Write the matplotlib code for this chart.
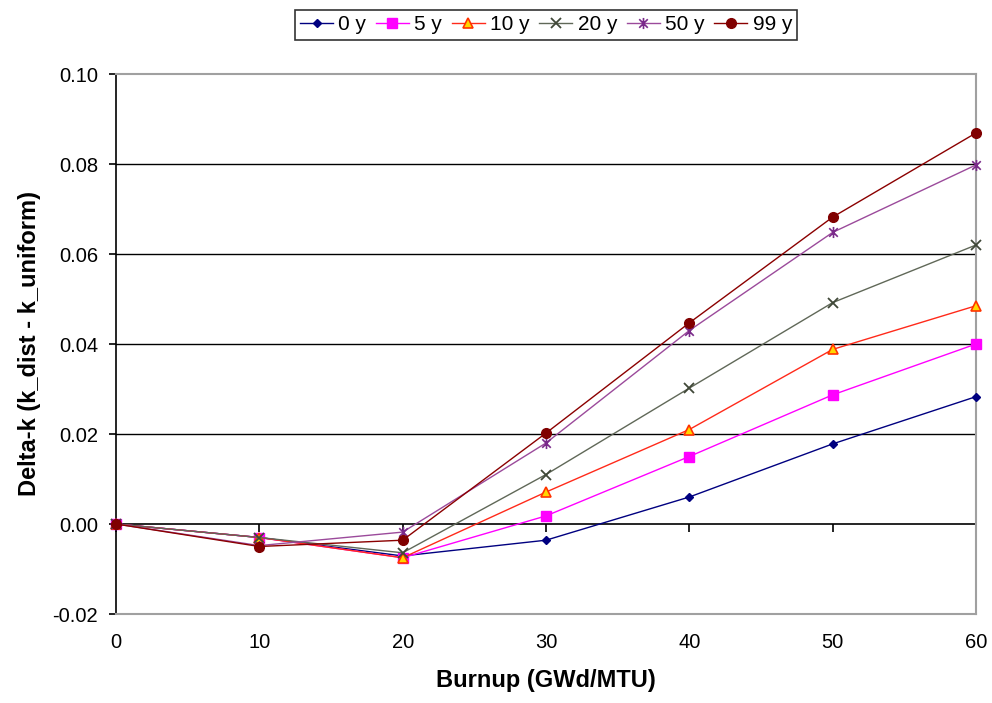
import matplotlib
matplotlib.use("Agg")
import matplotlib.pyplot as plt
from matplotlib.ticker import FormatStrFormatter
from matplotlib.path import Path

plt.rcParams['font.family'] = ['Liberation Sans', 'DejaVu Sans']

burnup = [0, 10, 20, 30, 40, 50, 60]
series_labels = ['0 y', '5 y', '10 y', '20 y', '50 y', '99 y']
dk_0y = [0.0, -0.0030, -0.0071, -0.0036, 0.0060, 0.0178, 0.0283]
dk_5y = [0.0, -0.0030, -0.0075, 0.0018, 0.0150, 0.0287, 0.0400]
dk_10y = [0.0, -0.0030, -0.0075, 0.0071, 0.0210, 0.0388, 0.0485]
dk_20y = [0.0, -0.0030, -0.0064, 0.0110, 0.0302, 0.0492, 0.0620]
dk_50y = [0.0, -0.0048, -0.0018, 0.0180, 0.0430, 0.0648, 0.0798]
dk_99y = [0.0, -0.0050, -0.0036, 0.0202, 0.0447, 0.0682, 0.0869]
yticks = [-0.02, 0.00, 0.02, 0.04, 0.06, 0.08, 0.10]
xticks = [0, 10, 20, 30, 40, 50, 60]

star = Path([(-1, -1), (1, 1), (-1, 1), (1, -1), (0, -1.3), (0, 1.3)],
            [Path.MOVETO, Path.LINETO, Path.MOVETO, Path.LINETO, Path.MOVETO, Path.LINETO])

fig = plt.figure(figsize=(9.92, 7.03), dpi=100)
ax = fig.add_axes([116/992, 1-614/703, (976-116)/992, (614-74)/703])

styles = [
    dict(color='#000080', marker='D', ms=4, mfc='#000080', mec='#000080'),
    dict(color='#FF00FF', marker='s', ms=7, mfc='#FF00FF', mec='#FF00FF'),
    dict(color='#FF2A1A', marker='^', ms=7, mfc='#FFD700', mec='#FF3300', mew=1.2),
    dict(color='#606858', marker='x', ms=7, mec='#404838', mew=1.3),
    dict(color='#9B4A9B', marker=star, ms=8, mec='#7A2A8A', mew=1.2),
    dict(color='#8B0000', marker='o', ms=7, mfc='#800000', mec='#800000'),
]
data = [dk_0y, dk_5y, dk_10y, dk_20y, dk_50y, dk_99y]
for vals, lab, st in zip(data, series_labels, styles):
    ax.plot(burnup, vals, lw=1.0, label=lab, clip_on=False, zorder=3, **st)

ax.set_xlim(0, 60)
ax.set_ylim(-0.02, 0.10)
ax.set_yticks(yticks)
ax.set_xticks(xticks)
ax.yaxis.set_major_formatter(FormatStrFormatter('%.2f'))

for y in [0.02, 0.04, 0.06, 0.08]:
    ax.axhline(y, color='black', lw=1.0, zorder=1)

for s in ['top', 'right', 'bottom']:
    ax.spines[s].set_color('#A0A0A0')
    ax.spines[s].set_linewidth(1.5)
ax.spines['left'].set_color('black')
ax.spines['left'].set_linewidth(1.2)

ax.tick_params(axis='y', direction='out', length=5, width=1.2, labelsize=14.5, pad=8)
ax.tick_params(axis='x', length=0, labelsize=14.5, pad=14)

sec = ax.secondary_xaxis(1/6)
sec.set_xticks(xticks)
sec.tick_params(axis='x', direction='out', length=6, width=1.2, labelbottom=False, labeltop=False)
sec.spines['bottom'].set_color('black')
sec.spines['bottom'].set_linewidth(1.2)
sec.spines['top'].set_visible(False)

ax.set_xlabel('Burnup (GWd/MTU)', fontsize=17, fontweight='bold', labelpad=12)
ax.set_ylabel('Delta-k (k_dist - k_uniform)', fontsize=17, fontweight='bold', labelpad=8)

leg = fig.legend(loc='center', bbox_to_anchor=(546/992, 1-25/703), ncol=6, fontsize=15,
                 frameon=True, fancybox=False, edgecolor='black', handlelength=1.6,
                 handletextpad=0.25, columnspacing=0.45, borderpad=0.25, borderaxespad=0.2)
leg.get_frame().set_linewidth(1.2)

fig.savefig('out.png', dpi=100)
